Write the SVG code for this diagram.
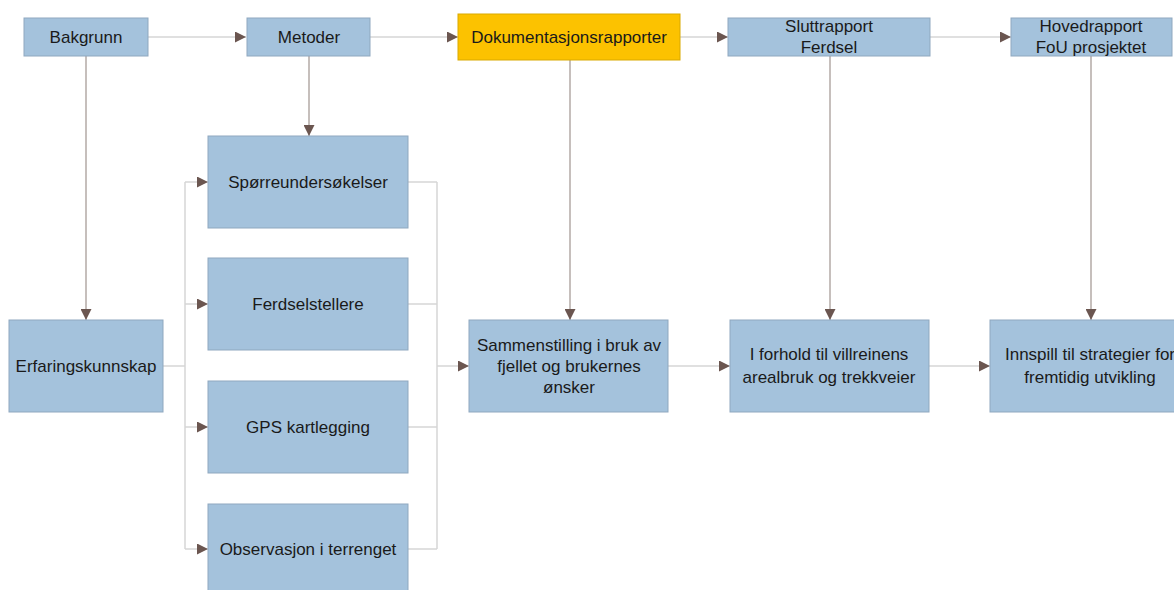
<svg xmlns="http://www.w3.org/2000/svg" width="1174" height="590" viewBox="0 0 1174 590">
<style>
.box{fill:#a4c2dc;stroke:#8fa8bf;stroke-width:1}
.yel{fill:#fcc200;stroke:#d9a900;stroke-width:1}
.t{font-family:"Liberation Sans",Arial,sans-serif;font-size:17px;fill:#1a1a1a;text-anchor:middle;dominant-baseline:central}
.ln{fill:none;stroke:#d6d6d6;stroke-width:1.5}
.dk{stroke:#b3aaa6}
</style>
<defs>
<marker id="ah" markerUnits="userSpaceOnUse" markerWidth="11" markerHeight="11" viewBox="0 0 10 10" refX="10" refY="5" orient="auto">
<path d="M0,0 L10,5 L0,10 Z" fill="#6b5650"/>
</marker>
</defs>
<rect width="1174" height="590" fill="#ffffff"/>
<g id="connectors">
<line class="ln" x1="148" y1="37" x2="246" y2="37" marker-end="url(#ah)"/>
<line class="ln" x1="370" y1="37" x2="458" y2="37" marker-end="url(#ah)"/>
<line class="ln" x1="680" y1="37" x2="728" y2="37" marker-end="url(#ah)"/>
<line class="ln" x1="930" y1="37" x2="1011" y2="37" marker-end="url(#ah)"/>
<line class="ln dk" x1="86" y1="56" x2="86" y2="320" marker-end="url(#ah)"/>
<line class="ln dk" x1="309" y1="56" x2="309" y2="136" marker-end="url(#ah)"/>
<line class="ln dk" x1="570" y1="60" x2="570" y2="320" marker-end="url(#ah)"/>
<line class="ln dk" x1="830" y1="56" x2="830" y2="320" marker-end="url(#ah)"/>
<line class="ln dk" x1="1091" y1="56" x2="1091" y2="320" marker-end="url(#ah)"/>
<path class="ln" d="M163,366 H185 M185,182 V549"/>
<line class="ln" x1="185" y1="182" x2="208" y2="182" marker-end="url(#ah)"/>
<line class="ln" x1="185" y1="304" x2="208" y2="304" marker-end="url(#ah)"/>
<line class="ln" x1="185" y1="427" x2="208" y2="427" marker-end="url(#ah)"/>
<line class="ln" x1="185" y1="549" x2="208" y2="549" marker-end="url(#ah)"/>
<path class="ln" d="M408,182 H437 M408,304 H437 M408,427 H437 M408,549 H437 M437,182 V549"/>
<line class="ln" x1="437" y1="366" x2="469" y2="366" marker-end="url(#ah)"/>
<line class="ln" x1="668" y1="366" x2="730" y2="366" marker-end="url(#ah)"/>
<line class="ln" x1="929" y1="366" x2="990" y2="366" marker-end="url(#ah)"/>
</g>
<g id="bakgrunn"><rect class="box" x="24" y="18" width="124" height="38"/><text class="t" x="86" y="37">Bakgrunn</text></g>
<g id="metoder"><rect class="box" x="247" y="18" width="123" height="38"/><text class="t" x="309" y="37">Metoder</text></g>
<g id="dokumentasjon"><rect class="yel" x="458" y="14" width="222" height="46"/><text class="t" x="569" y="37">Dokumentasjonsrapporter</text></g>
<g id="sluttrapport"><rect class="box" x="728" y="18" width="202" height="38"/><text class="t" x="829" y="26">Sluttrapport</text><text class="t" x="829" y="47">Ferdsel</text></g>
<g id="hovedrapport"><rect class="box" x="1011" y="18" width="161" height="38"/><text class="t" x="1091" y="26">Hovedrapport</text><text class="t" x="1091" y="47">FoU prosjektet</text></g>
<g id="erfaring"><rect class="box" x="9" y="320" width="154" height="92"/><text class="t" x="86" y="366">Erfaringskunnskap</text></g>
<g id="sporre"><rect class="box" x="208" y="136" width="200" height="92"/><text class="t" x="308" y="182">Spørreundersøkelser</text></g>
<g id="ferdsel"><rect class="box" x="208" y="258" width="200" height="92"/><text class="t" x="308" y="304">Ferdselstellere</text></g>
<g id="gps"><rect class="box" x="208" y="381" width="200" height="92"/><text class="t" x="308" y="427">GPS kartlegging</text></g>
<g id="observasjon"><rect class="box" x="208" y="504" width="200" height="92"/><text class="t" x="308" y="549">Observasjon i terrenget</text></g>
<g id="sammenstilling"><rect class="box" x="469" y="320" width="199" height="92"/><text class="t" x="569" y="345">Sammenstilling i bruk av</text><text class="t" x="569" y="366">fjellet og brukernes</text><text class="t" x="569" y="387">ønsker</text></g>
<g id="iforhold"><rect class="box" x="730" y="320" width="199" height="92"/><text class="t" x="829" y="354">I forhold til villreinens</text><text class="t" x="829" y="377">arealbruk og trekkveier</text></g>
<g id="innspill"><rect class="box" x="990" y="320" width="200" height="92"/><text class="t" x="1090" y="354">Innspill til strategier for</text><text class="t" x="1090" y="377">fremtidig utvikling</text></g>
</svg>
